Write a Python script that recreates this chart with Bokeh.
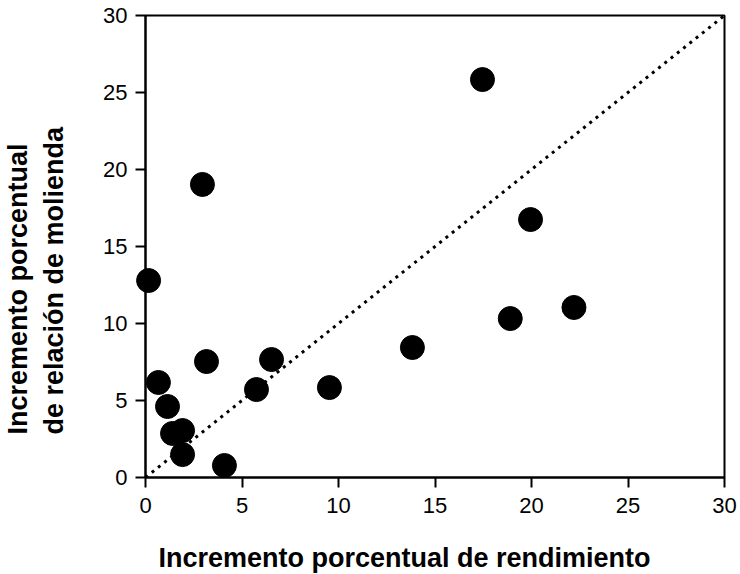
from bokeh.plotting import figure
from bokeh.models import Range1d, FixedTicker, Title, LinearAxis
from bokeh.embed import file_html
from bokeh.resources import INLINE

# Data
rendimiento = [0.16, 2.95, 17.46, 19.95, 22.2, 18.9, 13.83, 9.53, 6.53, 5.75,
               3.16, 0.67, 1.14, 1.4, 1.92, 1.92, 4.09]
molienda = [12.79, 19.03, 25.84, 16.75, 11.04, 10.32, 8.44, 5.84, 7.66, 5.71,
            7.53, 6.17, 4.61, 2.86, 3.05, 1.49, 0.78]
ticks = [0, 5, 10, 15, 20, 25, 30]
x_title = "Incremento porcentual de rendimiento"
y_title = "Incremento porcentual\nde relación de molienda"

FONT = "Liberation Sans"

p = figure(width=740, height=574, output_backend="svg", toolbar_location=None,
           x_range=Range1d(0, 30), y_range=Range1d(0, 30))
p.frame_width = 579
p.frame_height = 462
p.min_border_left = 145
p.min_border_top = 15
p.min_border_right = 16
p.min_border_bottom = 97
p.background_fill_color = "white"
p.border_fill_color = "white"
p.outline_line_color = "black"
p.outline_line_width = 2
p.xgrid.visible = False
p.ygrid.visible = False

# diagonal 1:1 line
p.line(x=[ticks[0], ticks[-1]], y=[ticks[0], ticks[-1]], line_color="black",
       line_width=3, line_dash="3 5")

r = p.scatter(x=rendimiento, y=molienda, size=24, fill_color="black",
              line_color="black", line_width=1)
r.level = "overlay"

for ax in (p.xaxis[0], p.yaxis[0]):
    ax.ticker = FixedTicker(ticks=ticks)
    ax.axis_line_width = 2
    ax.axis_line_color = "black"
    ax.major_tick_line_width = 2
    ax.major_tick_line_color = "black"
    ax.major_tick_out = 10
    ax.major_tick_in = 0
    ax.minor_tick_line_color = None
    ax.major_label_text_font = FONT
    ax.major_label_text_font_size = "22px"
    ax.major_label_text_color = "black"

p.xaxis.major_label_standoff = 10
p.yaxis.major_label_standoff = 8


def spacer(gap):
    # a blank axis (white tick, no label text), used only to push the titles outward
    return LinearAxis(ticker=FixedTicker(ticks=[15]), axis_line_color=None,
                      major_tick_out=gap, major_tick_in=0,
                      major_tick_line_color="white", major_tick_line_width=1,
                      minor_tick_line_color=None, major_label_standoff=0,
                      major_label_overrides={15: ""},
                      major_label_text_font_size="1px")


p.add_layout(spacer(27), "below")
p.add_layout(spacer(32), "left")

# Axis titles (as titles in the side panels, offset as in the reference)
xt = Title(text=x_title, align="left", offset=13, standoff=0,
           vertical_align="top",
           text_font=FONT, text_font_style="bold", text_font_size="27px",
           text_color="black")
yt = Title(text=y_title, align="left", offset=43, standoff=0,
           vertical_align="bottom",
           text_font=FONT, text_font_style="bold", text_font_size="27px",
           text_color="black", text_line_height=1.2)
p.add_layout(xt, "below")
p.add_layout(yt, "left")

open("out.html", "w").write(file_html(p, INLINE))
